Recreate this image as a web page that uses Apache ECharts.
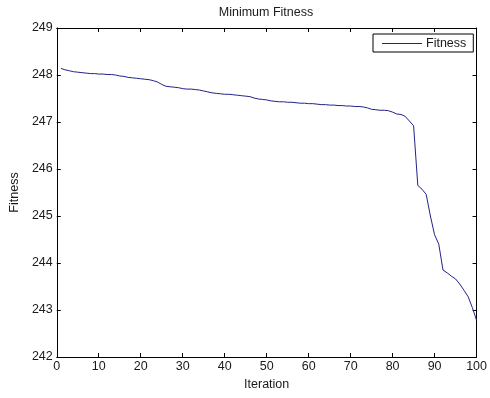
<!DOCTYPE html>
<html>
<head>
<meta charset="utf-8">
<script src="https://cdn.jsdelivr.net/npm/echarts@6/dist/echarts.min.js"></script>
<style>
  html, body { margin: 0; padding: 0; background: #fff; }
  #chart { width: 490px; height: 398px; }
</style>
</head>
<body>
<div id="chart"></div>
<script>
// Best fitness found at each iteration (iterations 1..100)
const fitness = [
  248.14, 248.11, 248.09, 248.07, 248.06, 248.05, 248.04, 248.03, 248.03, 248.02,
  248.02, 248.01, 248.01, 248.00, 247.98, 247.97, 247.95, 247.94, 247.93, 247.92,
  247.91, 247.90, 247.88, 247.85, 247.80, 247.76, 247.75, 247.74, 247.73, 247.71,
  247.70, 247.70, 247.69, 247.68, 247.66, 247.64, 247.62, 247.61, 247.60, 247.59,
  247.59, 247.58, 247.57, 247.56, 247.55, 247.54, 247.51, 247.49, 247.48, 247.47,
  247.45, 247.44, 247.43, 247.43, 247.42, 247.42, 247.41, 247.40, 247.40, 247.39,
  247.39, 247.38, 247.37, 247.37, 247.36, 247.36, 247.35, 247.35, 247.34, 247.34,
  247.33, 247.33, 247.32, 247.30, 247.27, 247.26, 247.25, 247.25, 247.24, 247.21,
  247.17, 247.16, 247.12, 247.02, 246.92, 245.65, 245.57, 245.46, 245.00, 244.60,
  244.40, 243.85, 243.79, 243.72, 243.66, 243.55, 243.42, 243.28, 243.05, 242.78
];
const xTicks = { min: 0, max: 100, interval: 10 };
const yTicks = { min: 242, max: 249, interval: 1 };

const titleText = 'Minimum Fitness';
const xName = 'Iteration';
const yName = 'Fitness';
const seriesName = 'Fitness';

const font = 'Arial, "Liberation Sans", Helvetica, sans-serif';
const ink = '#1a1a1a';
const lineColor = '#22228a';

const points = fitness.map((v, i) => [i + 1, v]);

// Shared style for the four sides of the axes box (ticks point inward)
const boxAxis = (extra) => Object.assign({
  type: 'value',
  axisLine: { show: true, onZero: false, lineStyle: { color: '#000', width: 1 } },
  axisTick: { show: true, inside: true, length: 4, lineStyle: { color: '#000', width: 1 } },
  splitLine: { show: false },
  axisLabel: { show: false }
}, extra);

const chart = echarts.init(document.getElementById('chart'), null, { renderer: 'canvas' });
chart.setOption({
  backgroundColor: '#fff',
  animation: false,
  title: {
    text: titleText,
    left: 266,
    top: 6,
    padding: 0,
    textAlign: 'center',
    textStyle: { fontFamily: font, fontSize: 12.5, fontWeight: 'normal', color: ink }
  },
  legend: {
    data: [{ name: seriesName, icon: 'rect' }],
    left: 373,
    top: 34,
    padding: [3, 7, 2, 9],
    itemWidth: 40,
    itemHeight: 1,
    itemGap: 4,
    backgroundColor: '#fff',
    borderColor: '#000',
    borderWidth: 1,
    borderRadius: 0,
    itemStyle: { color: lineColor, borderWidth: 0 },
    textStyle: { fontFamily: font, fontSize: 12.5, color: ink, padding: [0, 0, 0, -1] }
  },
  grid: { left: 53, right: 11, top: 28, bottom: 41, containLabel: false },
  xAxis: [
    boxAxis({
      position: 'bottom',
      min: xTicks.min, max: xTicks.max, interval: xTicks.interval,
      name: xName,
      nameLocation: 'middle',
      nameGap: 20,
      nameTextStyle: { fontFamily: font, fontSize: 12.5, color: ink },
      axisLabel: { show: true, margin: 3, fontFamily: font, fontSize: 12.5, color: ink }
    }),
    boxAxis({ position: 'top', min: xTicks.min, max: xTicks.max, interval: xTicks.interval })
  ],
  yAxis: [
    boxAxis({
      position: 'left',
      min: yTicks.min, max: yTicks.max, interval: yTicks.interval,
      name: yName,
      nameLocation: 'middle',
      nameGap: 33,
      nameTextStyle: { fontFamily: font, fontSize: 12.5, color: ink },
      axisLabel: { show: true, margin: 4, fontFamily: font, fontSize: 12.5, color: ink }
    }),
    boxAxis({ position: 'right', min: yTicks.min, max: yTicks.max, interval: yTicks.interval })
  ],
  series: [{
    name: seriesName,
    type: 'line',
    xAxisIndex: 0,
    yAxisIndex: 0,
    data: points,
    symbol: 'none',
    showSymbol: false,
    lineStyle: { color: lineColor, width: 1 },
    itemStyle: { color: lineColor }
  }]
});
</script>
</body>
</html>
